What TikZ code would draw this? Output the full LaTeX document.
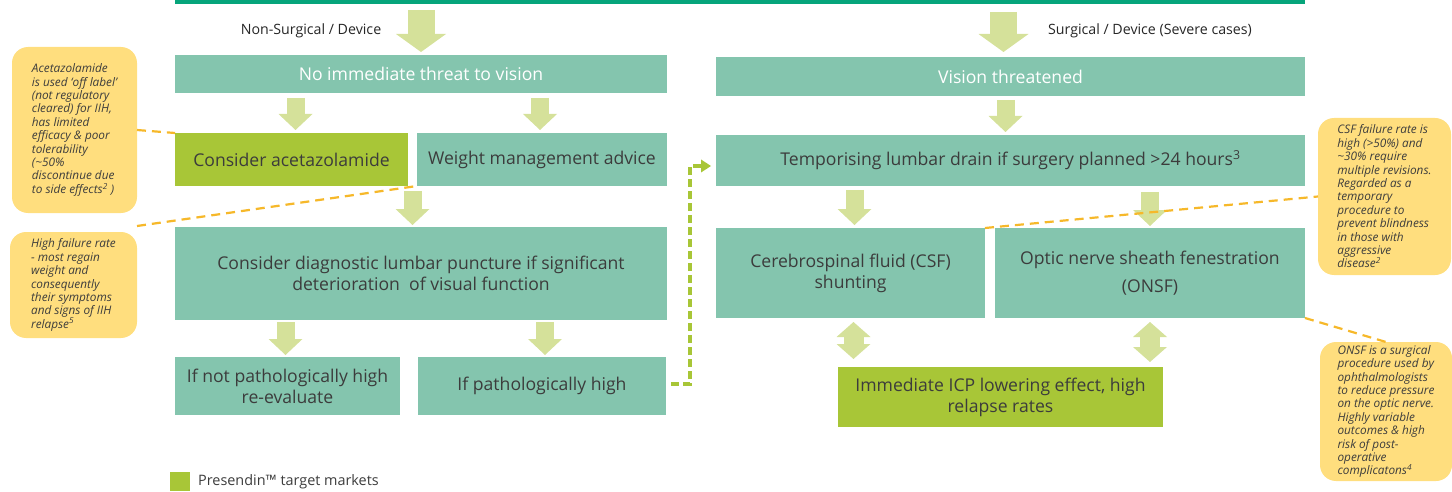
\documentclass[tikz,border=0pt]{standalone}
\usepackage{fontspec}
\setmainfont{Open Sans}
\usetikzlibrary{arrows.meta,calc}
\definecolor{boxteal}{HTML}{84C5AE}
\definecolor{limegreen}{HTML}{A8C637}
\definecolor{arrowgreen}{HTML}{D5E19A}
\definecolor{calloutyellow}{HTML}{FFDE7E}
\definecolor{dashorange}{HTML}{F6B82A}
\definecolor{topgreen}{HTML}{06A57B}
\definecolor{textdark}{HTML}{3C3C3C}
\begin{document}
\begin{tikzpicture}[x=1pt,y=-1pt,
  box/.style={fill=boxteal, anchor=north west, inner sep=0pt, outer sep=0pt, align=center, text=textdark, font=\fontsize{17.6}{21}\selectfont},
  limebox/.style={box, fill=limegreen},
  callout/.style={fill=calloutyellow, rounded corners=16pt, anchor=north west, inner sep=0pt, outer sep=0pt, align=left, text=textdark, font=\fontsize{11.8}{13.4}\selectfont\itshape},
  bigarrow/.style={draw=arrowgreen, line width=27pt, -{Triangle[width=50pt,length=18pt,line width=0pt]}},
  smallarrow/.style={draw=arrowgreen, line width=18pt, -{Triangle[width=34pt,length=16pt,line width=0pt]}},
  dblarrow/.style={draw=arrowgreen, line width=20pt, {Triangle[width=34pt,length=15pt,line width=0pt]}-{Triangle[width=34pt,length=15pt,line width=0pt]}},
  dashline/.style={draw=dashorange, line width=2.2pt, dash pattern=on 9pt off 6pt},
  greendash/.style={draw=limegreen, line width=3.5pt, dash pattern=on 8pt off 4pt, -{Triangle[width=13pt,length=10pt,line width=0pt]}},
  toplabel/.style={font=\fontsize{14.2}{16}\selectfont, text=black!85, inner sep=0pt}
]
\useasboundingbox (0,0) rectangle (1452,492);
\clip (0,0) rectangle (1452,492);

% top bar
\node[fill=topgreen, anchor=north west, inner sep=0pt, outer sep=0pt, minimum width=1130pt, minimum height=4pt] (bar) at (175,0) {};

% labels
\node[toplabel] (lblL) at (311,31) {Non-Surgical / Device};
\node[toplabel] (lblR) at (1150,31) {Surgical / Device (Severe cases)};

% left column
\node[box, text=white, minimum width=492pt, minimum height=38pt] (n1) at (175,55) {No immediate threat to vision};
\node[limebox, minimum width=233pt, minimum height=53pt] (acet) at (175,133) {Consider acetazolamide};
\node[box, minimum width=250pt, minimum height=53pt] (weight) at (417,133) {Weight management advice};
\node[box, minimum width=492pt, minimum height=93pt] (diag) at (175,227) {Consider diagnostic lumbar puncture if significant\\deterioration\ \ of visual function};
\node[box, minimum width=225pt, minimum height=58pt] (ifnot) at (175,357) {If not pathologically high\\re-evaluate};
\node[box, minimum width=248pt, minimum height=58pt] (ifhigh) at (418,357) {If pathologically high};

% right column
\node[box, text=white, minimum width=589pt, minimum height=39pt] (vision) at (716,57) {Vision threatened};
\node[box, minimum width=589pt, minimum height=51pt] (temp) at (716,135) {Temporising lumbar drain if surgery planned >24 hours\textsuperscript{3}};
\node[box, minimum width=269pt, minimum height=90pt] (csf) at (716,228) {Cerebrospinal fluid (CSF)\\shunting};
\node[box, minimum width=310pt, minimum height=90pt] (onsf) at (995,228) {Optic nerve sheath fenestration\\[7pt](ONSF)};
\node[limebox, minimum width=325pt, minimum height=60pt] (icp) at (838,367) {Immediate ICP lowering effect, high\\relapse rates};

% callouts
\node[callout, minimum width=125pt, minimum height=166pt] (c1) at (12,47) {Acetazolamide\\is used ‘off label’\\(not regulatory\\cleared) for IIH,\\has limited\\efficacy \& poor\\tolerability\\(\textasciitilde50\%\\discontinue due\\to side effects\textsuperscript{2} )};
\node[callout, minimum width=127pt, minimum height=106pt] (c2) at (10,232) {High failure rate\\- most regain\\weight and\\consequently\\their symptoms\\and signs of IIH\\relapse\textsuperscript{5}};
\node[callout, minimum width=133pt, minimum height=157pt] (c3) at (1318,118) {CSF failure rate is\\high (>50\%) and\\\textasciitilde30\% require\\multiple revisions.\\Regarded as a\\temporary\\procedure to\\prevent blindness\\in those with\\aggressive\\disease\textsuperscript{2}};
\node[callout, minimum width=132pt, minimum height=139pt] (c4) at (1320,342) {ONSF is a surgical\\procedure used by\\ophthalmologists\\to reduce pressure\\on the optic nerve.\\Highly variable\\outcomes \& high\\risk of post-\\operative\\complicatons\textsuperscript{4}};

% legend
\node[fill=limegreen, anchor=north west, inner sep=0pt, outer sep=0pt, minimum width=20pt, minimum height=19pt] (legsq) at (170,472) {};
\node[anchor=west, inner sep=0pt, font=\fontsize{14.4}{16}\selectfont, text=textdark] (legtxt) at ([xshift=8pt]legsq.east) {Presendin™ target markets};

% big arrows from top bar
\draw[bigarrow, shorten <=6pt, shorten >=3pt] (bar.south -| n1.north) -- (n1.north);
\draw[bigarrow, shorten <=8pt, shorten >=5pt] ([xshift=-7pt]bar.south -| vision.north) -- ([xshift=-7pt]vision.north);

% small arrows
\draw[smallarrow, shorten <=5pt, shorten >=3pt] ([xshift=4pt]acet.north |- n1.south) -- ([xshift=4pt]acet.north);
\draw[smallarrow, shorten <=5pt, shorten >=3pt] ([xshift=-2pt]weight.north |- n1.south) -- ([xshift=-2pt]weight.north);
\coordinate (mid1) at ($(acet.south east)!0.5!(weight.south west)$);
\draw[smallarrow, shorten <=5pt, shorten >=2pt] (mid1) -- (mid1 |- diag.north);
\draw[smallarrow, shorten <=2pt, shorten >=2pt] ([xshift=-2pt]ifnot.north |- diag.south) -- ([xshift=-2pt]ifnot.north);
\draw[smallarrow, shorten <=2pt, shorten >=2pt] ([xshift=3pt]ifhigh.north |- diag.south) -- ([xshift=3pt]ifhigh.north);
\draw[smallarrow, shorten <=4pt, shorten >=3pt] ([xshift=-5pt]vision.south) -- ([xshift=-5pt]temp.north);
\draw[smallarrow, shorten <=4pt, shorten >=3pt] ([xshift=4pt]csf.north |- temp.south) -- ([xshift=4pt]csf.north);
\draw[smallarrow, shorten <=6pt, shorten >=2pt] (onsf.north |- temp.south) -- (onsf.north);

% double arrows
\draw[dblarrow, shorten <=4pt, shorten >=8pt] ([xshift=3pt]csf.south) -- ([xshift=3pt]csf.south |- icp.north);
\draw[dblarrow, shorten <=4pt, shorten >=5pt] (onsf.south) -- (onsf.south |- icp.north);

% green dashed connector
\coordinate (gturn) at (690,166);
\draw[greendash] ([xshift=5pt,yshift=2pt]ifhigh.east) -| (gturn) -- ([xshift=-5pt]temp.west |- gturn);

% orange dashed callout lines
\draw[dashline] (c1.east) -- (acet.north west);
\draw[dashline] ([yshift=6pt]c2.north east) -- (weight.south west);
\draw[dashline] (csf.north east) -- (c3.west);
\draw[dashline] (onsf.south east) -- (c4.north);
\end{tikzpicture}
\end{document}
